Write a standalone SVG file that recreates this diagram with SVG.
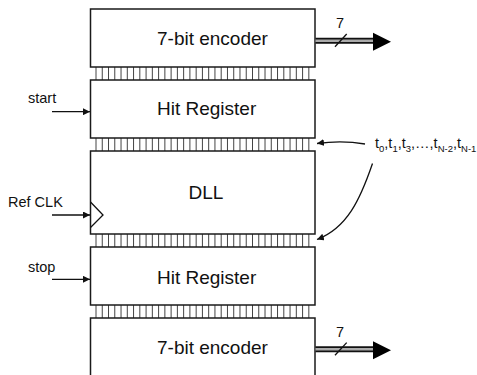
<svg xmlns="http://www.w3.org/2000/svg" width="477" height="375" viewBox="0 0 477 375">
<style>
.box{fill:#fff;stroke:#1a1a1a;stroke-width:1.5}
.lbl{font-family:"Liberation Sans",Arial,sans-serif;font-size:19px;fill:#111}
.small{font-family:"Liberation Sans",Arial,sans-serif;font-size:14.5px;fill:#111}
.w{stroke:#111;stroke-width:1.3;fill:none}
.tick{stroke:#444;stroke-width:1}
.busO{stroke:#111;stroke-width:6;fill:none}
.busI{stroke:#aaa;stroke-width:2.5;fill:none}
</style>
<defs>
<marker id="ah" viewBox="0 0 10 10" refX="10" refY="5" markerWidth="7" markerHeight="7" markerUnits="userSpaceOnUse" orient="auto">
<path d="M0,0 L10,5 L0,10 z" fill="#111"/>
</marker>
<g id="ticks">
<line class="tick" x1="96" y1="0" x2="96" y2="13"/><line class="tick" x1="102.26" y1="0" x2="102.26" y2="13"/><line class="tick" x1="108.52" y1="0" x2="108.52" y2="13"/><line class="tick" x1="114.78" y1="0" x2="114.78" y2="13"/><line class="tick" x1="121.04" y1="0" x2="121.04" y2="13"/><line class="tick" x1="127.3" y1="0" x2="127.3" y2="13"/><line class="tick" x1="133.56" y1="0" x2="133.56" y2="13"/><line class="tick" x1="139.82" y1="0" x2="139.82" y2="13"/><line class="tick" x1="146.08" y1="0" x2="146.08" y2="13"/><line class="tick" x1="152.34" y1="0" x2="152.34" y2="13"/><line class="tick" x1="158.6" y1="0" x2="158.6" y2="13"/><line class="tick" x1="164.86" y1="0" x2="164.86" y2="13"/><line class="tick" x1="171.12" y1="0" x2="171.12" y2="13"/><line class="tick" x1="177.38" y1="0" x2="177.38" y2="13"/><line class="tick" x1="183.64" y1="0" x2="183.64" y2="13"/><line class="tick" x1="189.9" y1="0" x2="189.9" y2="13"/><line class="tick" x1="196.16" y1="0" x2="196.16" y2="13"/><line class="tick" x1="202.42" y1="0" x2="202.42" y2="13"/><line class="tick" x1="208.68" y1="0" x2="208.68" y2="13"/><line class="tick" x1="214.94" y1="0" x2="214.94" y2="13"/><line class="tick" x1="221.2" y1="0" x2="221.2" y2="13"/><line class="tick" x1="227.46" y1="0" x2="227.46" y2="13"/><line class="tick" x1="233.72" y1="0" x2="233.72" y2="13"/><line class="tick" x1="239.98" y1="0" x2="239.98" y2="13"/><line class="tick" x1="246.24" y1="0" x2="246.24" y2="13"/><line class="tick" x1="252.5" y1="0" x2="252.5" y2="13"/><line class="tick" x1="258.76" y1="0" x2="258.76" y2="13"/><line class="tick" x1="265.02" y1="0" x2="265.02" y2="13"/><line class="tick" x1="271.28" y1="0" x2="271.28" y2="13"/><line class="tick" x1="277.54" y1="0" x2="277.54" y2="13"/><line class="tick" x1="283.8" y1="0" x2="283.8" y2="13"/><line class="tick" x1="290.06" y1="0" x2="290.06" y2="13"/><line class="tick" x1="296.32" y1="0" x2="296.32" y2="13"/><line class="tick" x1="302.58" y1="0" x2="302.58" y2="13"/><line class="tick" x1="308.84" y1="0" x2="308.84" y2="13"/>
</g>
</defs>
<rect width="477" height="375" fill="#fff"/>
<g id="buses">
<use href="#ticks" y="67"/>
<use href="#ticks" y="138"/>
<use href="#ticks" y="234"/>
<use href="#ticks" y="305"/>
</g>
<g id="encoder1">
<rect class="box" x="90.5" y="9" width="224.5" height="58"/>
<text class="lbl" x="157" y="44.5">7-bit encoder</text>
</g>
<g id="hitreg1">
<rect class="box" x="90.5" y="80" width="224.5" height="58"/>
<text class="lbl" x="157" y="115">Hit Register</text>
</g>
<g id="dll">
<rect class="box" x="90.5" y="151" width="224.5" height="83"/>
<polyline class="w" points="90.5,202 103,215 90.5,227.5"/>
<text class="lbl" x="206" y="198.5" text-anchor="middle">DLL</text>
</g>
<g id="hitreg2">
<rect class="box" x="90.5" y="247" width="224.5" height="58"/>
<text class="lbl" x="157" y="283.5">Hit Register</text>
</g>
<g id="encoder2">
<rect class="box" x="90.5" y="318" width="224.5" height="70"/>
<text class="lbl" x="157" y="353.5">7-bit encoder</text>
</g>
<g id="connectors">
<line class="w" x1="52" y1="111.7" x2="90" y2="111.7" marker-end="url(#ah)"/>
<line class="w" x1="52" y1="215" x2="90" y2="215" marker-end="url(#ah)"/>
<line class="w" x1="52" y1="279.3" x2="90" y2="279.3" marker-end="url(#ah)"/>
<path class="w" d="M365,144 Q342,140 317,143.5" marker-end="url(#ah)"/>
<path class="w" d="M372.5,163.5 C360,200 347,228 317,239.5" marker-end="url(#ah)"/>
<line class="busO" x1="315.5" y1="40.7" x2="374" y2="40.7"/>
<line class="busI" x1="315.5" y1="40.7" x2="374" y2="40.7"/>
<polygon points="373,32.7 391,41.7 373,50.7" fill="#000"/>
<line class="w" x1="335" y1="46.7" x2="346.7" y2="34"/>
<line class="busO" x1="315.5" y1="349.3" x2="374" y2="349.3"/>
<line class="busI" x1="315.5" y1="349.3" x2="374" y2="349.3"/>
<polygon points="373,341.3 391,350.3 373,359.3" fill="#000"/>
<line class="w" x1="335" y1="355.3" x2="346.7" y2="342.6"/>
</g>
<g id="labels">
<text class="small" x="28" y="103.3">start</text>
<text class="small" x="8" y="207">Ref CLK</text>
<text class="small" x="28" y="271.7">stop</text>
<text class="small" x="340" y="28.3" text-anchor="middle" font-size="14">7</text>
<text class="small" x="340" y="336.7" text-anchor="middle" font-size="14">7</text>
<text class="small" x="375" y="148.3" font-size="14">t<tspan font-size="9.5" dy="3.4">0</tspan><tspan dy="-3.4">,t</tspan><tspan font-size="9.5" dy="3.4">1</tspan><tspan dy="-3.4">,t</tspan><tspan font-size="9.5" dy="3.4">3</tspan><tspan dy="-3.4">,…,t</tspan><tspan font-size="9.5" dy="3.4">N-2</tspan><tspan dy="-3.4">,t</tspan><tspan font-size="9.5" dy="3.4">N-1</tspan></text>
</g>
</svg>
